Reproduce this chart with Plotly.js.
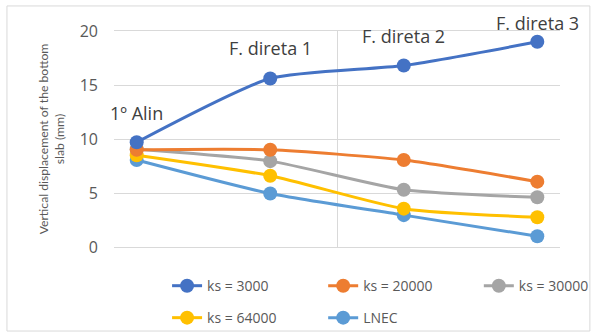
<!DOCTYPE html>
<html><head><meta charset="utf-8">
<script src="https://cdn.plot.ly/plotly-3.0.1.min.js"></script>
<style>html,body{margin:0;padding:0;background:#fff}#c{width:597px;height:336px}</style>
</head><body><div id="c"></div>
<script>
const xPos = [1, 2, 3, 4];
const stageLabels = ["1º Alin", "F. direta 1", "F. direta 2", "F. direta 3"];
const seriesNames = ["ks = 3000", "ks = 20000", "ks = 30000", "ks = 64000", "LNEC"];
const ks3000 = [9.7, 15.6, 16.8, 19.0];
const ks20000 = [9.0, 9.0, 8.05, 6.05];
const ks30000 = [9.05, 7.95, 5.3, 4.6];
const ks64000 = [8.5, 6.6, 3.55, 2.75];
const lnec = [8.05, 4.95, 2.95, 1.0];
const colors = ["#4472C4", "#ED7D31", "#A5A5A5", "#FFC000", "#5B9BD5"];
const allY = [ks3000, ks20000, ks30000, ks64000, lnec];
const legendIds = ["legend", "legend2", "legend3", "legend4", "legend5"];

const fontA = "'Open Sans', sans-serif";
const fontB = "Lato, sans-serif";
const traces = allY.map((y, i) => ({
  x: xPos, y: y, name: seriesNames[i], type: "scatter", mode: "lines+markers",
  legend: legendIds[i],
  line: {color: colors[i], width: 3, shape: "spline", smoothing: 0.6},
  marker: {color: colors[i], size: 14}
}));
const drawOrder = traces.slice().reverse();

const labelShift = [29, 31, 30, 19];
const annotations = stageLabels.map((t, i) => ({
  x: xPos[i], y: ks3000[i], text: t, showarrow: false, yshift: labelShift[i],
  font: {size: 18, color: "#404040", family: fontA}
}));

const colX = [0.119, 0.469, 0.818];
const rowY = [-0.181, -0.329];
const legBase = {orientation: "h", xanchor: "left", yanchor: "middle", bgcolor: "rgba(0,0,0,0)",
  font: {size: 14, color: "#595959", family: fontA}};

const layout = {
  width: 597, height: 336,
  margin: {l: 114, r: 37, t: 31, b: 89, autoexpand: false},
  paper_bgcolor: "#fff", plot_bgcolor: "#fff",
  font: {family: fontA, color: "#595959"},
  showlegend: true,
  xaxis: {range: [0.83, 4.17], tickvals: [2.5], showticklabels: false, ticks: "",
    showgrid: true, gridcolor: "#d9d9d9", gridwidth: 1, zeroline: false,
    showline: true, mirror: true, linecolor: "#d9d9d9", linewidth: 1},
  yaxis: {range: [0, 20], tickvals: [0, 5, 10, 15, 20], showgrid: true, gridcolor: "#d9d9d9",
    zeroline: false, showline: false, ticks: "", ticklabelstandoff: 15,
    tickfont: {size: 16, color: "#595959", family: fontA},
    title: {text: "Vertical displacement of the bottom<br>slab (mm)", font: {size: 12.2, color: "#595959", family: fontB}, standoff: 12}},
  annotations: annotations,
  shapes: [{type: "rect", xref: "paper", yref: "paper", x0: -0.24, x1: 1.067, y0: -0.389, y1: 1.116,
    line: {color: "#d9d9d9", width: 1}, fillcolor: "rgba(0,0,0,0)", layer: "below"}]
};
legendIds.forEach((id, i) => {
  layout[id] = Object.assign({}, legBase, {x: colX[i % 3], y: rowY[Math.floor(i / 3)]});
});
Plotly.newPlot("c", drawOrder, layout, {displayModeBar: false, staticPlot: true});
</script></body></html>
